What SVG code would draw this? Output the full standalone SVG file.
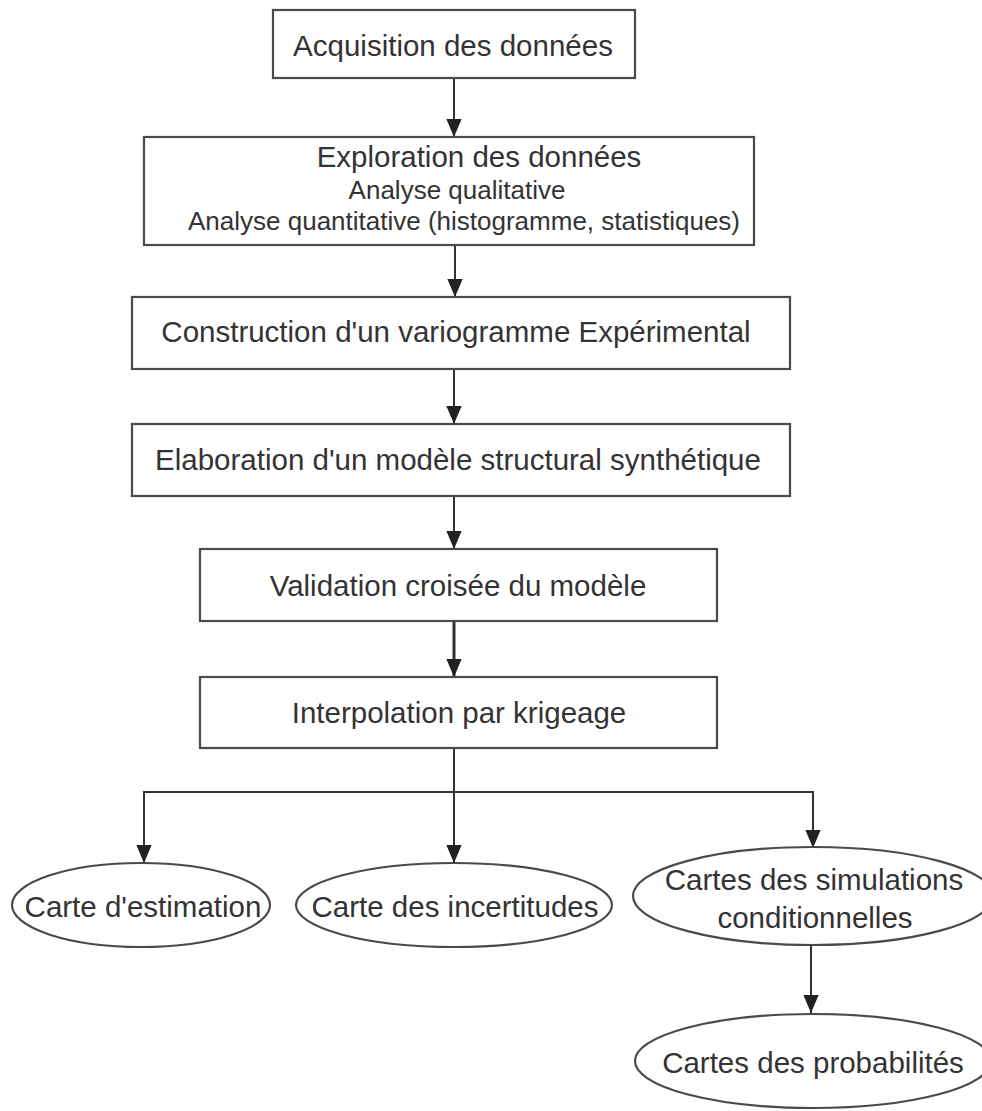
<svg xmlns="http://www.w3.org/2000/svg" width="982" height="1111" viewBox="0 0 982 1111">
<style>
.box{fill:#fff;stroke:#4a4a4a;stroke-width:2.2}
.t{font-family:"Liberation Sans",Arial,sans-serif;font-size:29.5px;fill:#333;text-anchor:middle}
.s{font-size:26px}
.c{stroke:#333;stroke-width:2;fill:none}
.th{stroke-width:3}
</style>
<defs>
<marker id="ah" markerUnits="userSpaceOnUse" markerWidth="18" markerHeight="22" refX="20" refY="8.5" orient="auto" viewBox="0 0 20 17">
<path d="M0,0 L20,8.5 L0,17 Z" fill="#222"/>
</marker>
</defs>
<rect width="982" height="1111" fill="#fff"/>
<g id="connectors">
<line class="c" x1="454" y1="78" x2="454" y2="137" marker-end="url(#ah)"/>
<line class="c" x1="455" y1="245" x2="455" y2="297" marker-end="url(#ah)"/>
<line class="c" x1="454" y1="369" x2="454" y2="424" marker-end="url(#ah)"/>
<line class="c" x1="454" y1="496" x2="454" y2="549" marker-end="url(#ah)"/>
<line class="c th" x1="454" y1="621" x2="454" y2="677" marker-end="url(#ah)"/>
<line class="c" x1="454" y1="748" x2="454" y2="863" marker-end="url(#ah)"/>
<polyline class="c" points="144,863 144,792 813,792 813,848"/>
<line class="c" x1="144" y1="792" x2="144" y2="863" marker-end="url(#ah)"/>
<line class="c" x1="813" y1="792" x2="813" y2="848" marker-end="url(#ah)"/>
<line class="c" x1="811" y1="945" x2="811" y2="1013" marker-end="url(#ah)"/>
</g>
<g id="n1"><rect class="box" x="273" y="10" width="362" height="68"/><text class="t" x="453" y="56">Acquisition des données</text></g>
<g id="n2"><rect class="box" x="144" y="137" width="610" height="108"/>
<text class="t" x="479" y="167">Exploration des données</text>
<text class="t s" x="457" y="199">Analyse qualitative</text>
<text class="t s" x="464" y="230">Analyse quantitative (histogramme, statistiques)</text></g>
<g id="n3"><rect class="box" x="132" y="297" width="658" height="72"/><text class="t" x="456" y="342">Construction d'un variogramme Expérimental</text></g>
<g id="n4"><rect class="box" x="132" y="424" width="658" height="72"/><text class="t" x="458" y="470">Elaboration d'un modèle structural synthétique</text></g>
<g id="n5"><rect class="box" x="200" y="549" width="517" height="72"/><text class="t" x="458" y="596">Validation croisée du modèle</text></g>
<g id="n6"><rect class="box" x="200" y="677" width="517" height="71"/><text class="t" x="459" y="723">Interpolation par krigeage</text></g>
<g id="e1"><ellipse class="box" cx="141" cy="905" rx="129" ry="42"/><text class="t" x="143" y="917">Carte d'estimation</text></g>
<g id="e2"><ellipse class="box" cx="454" cy="905" rx="158" ry="42"/><text class="t" x="455" y="917">Carte des incertitudes</text></g>
<g id="e3"><ellipse class="box" cx="813" cy="896" rx="180" ry="49"/>
<text class="t" x="814" y="890">Cartes des simulations</text>
<text class="t" x="815" y="928">conditionnelles</text></g>
<g id="e4"><ellipse class="box" cx="813" cy="1061" rx="178" ry="47"/><text class="t" x="813" y="1073">Cartes des probabilités</text></g>
</svg>
